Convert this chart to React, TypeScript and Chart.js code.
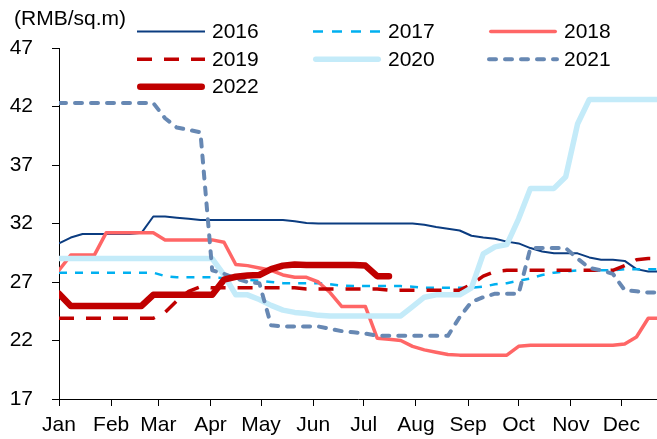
import React, { useEffect, useRef } from 'react';
import { Chart, registerables } from 'chart.js';

Chart.register(...registerables);

// Weekly observation points, as day-of-year offsets
const WEEK_DAYS = [
  0, 7, 14, 21, 28, 35, 42, 49, 56, 63, 70, 77, 84, 91, 98, 105, 112, 119, 126, 133,
  140, 147, 154, 161, 168, 175, 182, 189, 196, 203, 210, 217, 224, 231, 238, 245,
  252, 259, 266, 273, 280, 287, 294, 301, 308, 315, 322, 329, 336, 343, 350, 357,
];

const MONTH_LABELS = ['Jan', 'Feb', 'Mar', 'Apr', 'May', 'Jun', 'Jul', 'Aug', 'Sep', 'Oct', 'Nov', 'Dec'];
const MONTH_START_DAYS = [0, 31, 59, 90, 120, 151, 181, 212, 243, 273, 304, 334];
const Y_TICKS = [17, 22, 27, 32, 37, 42, 47];
const UNIT_LABEL = '(RMB/sq.m)';

const SERIES_NAMES = ['2016', '2017', '2018', '2019', '2020', '2021', '2022'];

const S2016 = [
  30.3, 30.8, 31.1, 31.1, 31.1, 31.1, 31.1, 31.2, 32.6, 32.6, 32.5, 32.4, 32.3,
  32.3, 32.3, 32.3, 32.3, 32.3, 32.3, 32.3, 32.2, 32.05, 32.0, 32.0, 32.0, 32.0,
  32.0, 32.0, 32.0, 32.0, 32.0, 31.9, 31.7, 31.55, 31.4, 30.95, 30.8, 30.7, 30.45,
  30.3, 29.9, 29.6, 29.45, 29.45, 29.45, 29.1, 28.9, 28.9, 28.8, 28.1, 27.9, 27.9,
];
const S2017 = [
  27.8, 27.8, 27.8, 27.8, 27.8, 27.8, 27.8, 27.8, 27.8, 27.5, 27.4, 27.4, 27.4,
  27.4, 27.35, 27.3, 27.2, 27.1, 27.0, 26.9, 26.9, 26.9, 26.9, 26.8, 26.7, 26.65,
  26.65, 26.65, 26.65, 26.65, 26.6, 26.5, 26.5, 26.5, 26.5, 26.5, 26.6, 26.8, 26.9,
  27.1, 27.3, 27.6, 27.8, 27.9, 28.0, 28.0, 28.0, 28.0, 28.1, 28.1, 28.1, 28.1,
];
const S2018 = [
  28.0, 29.3, 29.3, 29.3, 31.2, 31.2, 31.2, 31.2, 31.2, 30.6, 30.6, 30.6, 30.6,
  30.6, 30.4, 28.5, 28.4, 28.2, 28.0, 27.6, 27.4, 27.4, 27.0, 26.1, 24.9, 24.9,
  24.9, 22.2, 22.1, 22.0, 21.5, 21.2, 21.0, 20.8, 20.75, 20.75, 20.75, 20.75, 20.75,
  21.5, 21.6, 21.6, 21.6, 21.6, 21.6, 21.6, 21.6, 21.6, 21.7, 22.3, 23.9, 23.9,
];
const S2019 = [
  23.9, 23.9, 23.9, 23.9, 23.9, 23.9, 23.9, 23.9, 23.9, 24.4, 25.4, 26.2, 26.6,
  26.5, 26.5, 26.5, 26.5, 26.5, 26.5, 26.5, 26.5, 26.4, 26.4, 26.4, 26.4, 26.4,
  26.4, 26.4, 26.3, 26.3, 26.3, 26.3, 26.3, 26.3, 26.3, 26.8, 27.5, 27.9, 28.0,
  28.0, 28.0, 28.0, 28.0, 28.0, 28.0, 28.0, 28.0, 28.0, 28.4, 28.9, 29.0, 29.0,
];
const S2020 = [
  29.0, 29.0, 29.0, 29.0, 29.0, 29.0, 29.0, 29.0, 29.0, 29.0, 29.0, 29.0, 29.0,
  29.0, 27.6, 25.9, 25.9, 25.5, 25.0, 24.6, 24.4, 24.3, 24.15, 24.1, 24.1, 24.1,
  24.1, 24.1, 24.1, 24.1, 24.9, 25.7, 25.9, 25.9, 25.9, 26.5, 29.4, 30.0, 30.2,
  32.4, 35.0, 35.0, 35.0, 36.0, 40.5, 42.6, 42.6, 42.6, 42.6, 42.6, 42.6, 42.6,
];
const S2021 = [
  42.3, 42.3, 42.3, 42.3, 42.3, 42.3, 42.3, 42.3, 42.3, 41.0, 40.2, 40.0, 39.8,
  28.0, 27.7, 27.3, 27.0, 26.9, 23.3, 23.2, 23.2, 23.2, 23.2, 23.0, 22.8, 22.7,
  22.6, 22.4, 22.4, 22.4, 22.4, 22.4, 22.4, 22.4, 24.0, 25.3, 25.7, 26.0, 26.0,
  26.0, 29.9, 29.9, 29.9, 29.9, 29.0, 28.2, 28.0, 27.7, 26.3, 26.2, 26.1, 26.1,
];
const S2022 = [
  26.0, 24.95, 24.95, 24.95, 24.95, 24.95, 24.95, 24.95, 25.9, 25.9, 25.9, 25.9, 25.9,
  25.9, 27.2, 27.45, 27.55, 27.6, 28.1, 28.4, 28.5, 28.45, 28.45, 28.45, 28.45, 28.45,
  28.4, 27.5, 27.5, null, null, null, null, null, null, null, null, null, null,
  null, null, null, null, null, null, null, null, null, null, null, null, null,
];

const SERIES_VALUES = [S2016, S2017, S2018, S2019, S2020, S2021, S2022];

const FONT_FAMILY = '"Liberation Sans", Arial, sans-serif';
const FONT_SIZE = 21;

const STYLES = [
  { color: '#0B3C80', width: 2, dash: [], cap: 'butt' },
  { color: '#00B0F0', width: 2.5, dash: [8, 8], legendDash: [10, 9], cap: 'butt' },
  { color: '#FF6666', width: 3.5, dash: [], cap: 'round' },
  { color: '#C00000', width: 3.5, dash: [15, 12], cap: 'butt' },
  { color: '#C4EBF9', width: 5.5, dash: [], cap: 'round' },
  { color: '#6788B3', width: 4, dash: [7, 9], cap: 'round' },
  { color: '#C00000', width: 6.5, dash: [], cap: 'round' },
];

const legendPlugin = {
  id: 'gridLegend',
  afterDraw(chart: any) {
    const ctx = chart.ctx as CanvasRenderingContext2D;
    const colX = [137, 313, 489];
    const rowY = [31.5, 59.3, 86.7];
    const lineLen = 68;
    ctx.save();
    ctx.font = `${FONT_SIZE}px ${FONT_FAMILY}`;
    ctx.fillStyle = '#000';
    ctx.textBaseline = 'middle';
    ctx.textAlign = 'left';
    ctx.fillText(UNIT_LABEL, 14, 19);
    chart.data.datasets.forEach((ds: any, i: number) => {
      const r = Math.floor(i / 3);
      const c = i % 3;
      const x0 = colX[c];
      const y = rowY[r];
      const w = ds.borderWidth;
      const inset = ds.borderCapStyle === 'round' && (!ds.borderDash || ds.borderDash.length === 0) ? w / 2 : 0;
      ctx.beginPath();
      ctx.strokeStyle = ds.borderColor;
      ctx.lineWidth = w;
      ctx.lineCap = ds.borderCapStyle || 'butt';
      ctx.setLineDash(ds.legendDash || ds.borderDash || []);
      ctx.moveTo(x0 + inset, y);
      ctx.lineTo(x0 + lineLen - inset, y);
      ctx.stroke();
      ctx.setLineDash([]);
      ctx.fillStyle = '#000';
      ctx.fillText(ds.label, x0 + 75, y + 1);
    });
    ctx.restore();
  },
};

export default function App() {
  const canvasRef = useRef<HTMLCanvasElement | null>(null);

  useEffect(() => {
    if (!canvasRef.current) return;
    const datasets = SERIES_NAMES.map((name, i) => ({
      label: name,
      data: WEEK_DAYS.map((d, k) => ({ x: d, y: SERIES_VALUES[i][k] })),
      borderColor: STYLES[i].color,
      backgroundColor: STYLES[i].color,
      borderWidth: STYLES[i].width,
      borderDash: STYLES[i].dash,
      legendDash: (STYLES[i] as any).legendDash,
      borderCapStyle: STYLES[i].cap,
      borderJoinStyle: 'round',
      pointRadius: 0,
      pointHoverRadius: 0,
      tension: 0,
      fill: false,
      spanGaps: false,
      order: SERIES_NAMES.length - i,
    }));

    const chart = new Chart(canvasRef.current, {
      type: 'line',
      data: { datasets: datasets as any },
      options: {
        responsive: false,
        animation: false,
        devicePixelRatio: 1,
        layout: { padding: { top: 48, left: 0, right: 0, bottom: 0 } },
        plugins: {
          legend: { display: false },
          tooltip: { enabled: false },
          title: { display: false },
        },
        scales: {
          x: {
            type: 'linear',
            min: 0,
            max: 355.2,
            afterBuildTicks: (s: any) => {
              s.ticks = MONTH_START_DAYS.map((v) => ({ value: v }));
            },
            afterFit: (s: any) => {
              s.height = 40;
            },
            ticks: {
              autoSkip: false,
              maxRotation: 0,
              padding: 7,
              color: '#000',
              font: { family: FONT_FAMILY, size: FONT_SIZE },
              callback: (_v: any, idx: number) => MONTH_LABELS[idx],
            },
            grid: { drawOnChartArea: false, drawTicks: true, tickLength: 7, color: '#000' },
            border: { display: true, color: '#000', width: 1 },
          },
          y: {
            min: 17,
            max: 47,
            afterBuildTicks: (s: any) => {
              s.ticks = Y_TICKS.map((v) => ({ value: v }));
            },
            afterFit: (s: any) => {
              s.width = 59;
            },
            ticks: {
              padding: 19,
              color: '#000',
              font: { family: FONT_FAMILY, size: FONT_SIZE },
            },
            grid: { drawOnChartArea: false, drawTicks: true, tickLength: 7, color: '#000' },
            border: { display: true, color: '#000', width: 1 },
          },
        },
      },
      plugins: [legendPlugin],
    });
    return () => chart.destroy();
  }, []);

  return (
    <div style={{ position: 'fixed', left: 0, top: 0, width: 657, height: 439, background: '#fff' }}>
      <canvas ref={canvasRef} width={657} height={439} style={{ display: 'block' }} />
    </div>
  );
}
